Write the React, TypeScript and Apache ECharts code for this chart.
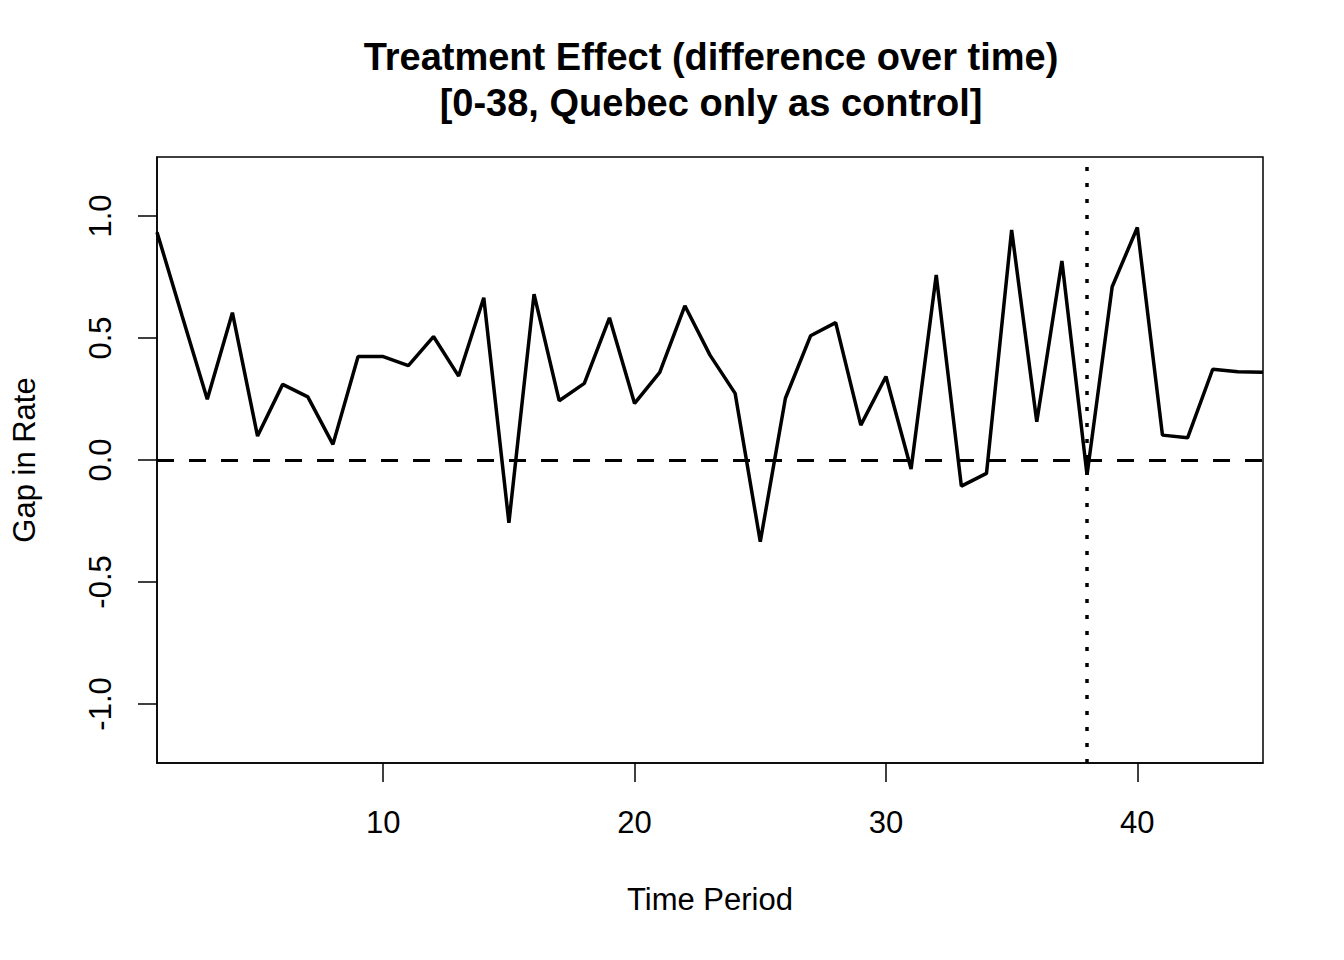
import { useEffect, useRef } from "react";
import * as echarts from "echarts";

const periods = [
  1, 2, 3, 4, 5, 6, 7, 8, 9, 10, 11, 12, 13, 14, 15, 16, 17, 18, 19, 20, 21, 22, 23,
  24, 25, 26, 27, 28, 29, 30, 31, 32, 33, 34, 35, 36, 37, 38, 39, 40, 41, 42, 43, 44, 45,
];
const gap = [
  0.934, 0.59, 0.249, 0.604, 0.098, 0.31, 0.259, 0.064, 0.424, 0.424, 0.387, 0.506,
  0.344, 0.665, -0.257, 0.68, 0.243, 0.314, 0.583, 0.232, 0.359, 0.632, 0.43, 0.273,
  -0.335, 0.253, 0.509, 0.563, 0.143, 0.342, -0.037, 0.758, -0.107, -0.055, 0.943,
  0.157, 0.816, -0.061, 0.71, 0.953, 0.102, 0.091, 0.372, 0.362, 0.36,
];
const xTicks = [10, 20, 30, 40];
const yTicks = [-1, -0.5, 0, 0.5, 1];
const treatmentStart = 38;

const FONT = "'Liberation Sans', Arial, sans-serif";

export default function App() {
  const ref = useRef<HTMLDivElement>(null);

  useEffect(() => {
    if (!ref.current) return;
    const chart = echarts.init(ref.current, undefined, { renderer: "svg" });

    chart.setOption({
      animation: false,
      backgroundColor: "#ffffff",
      textStyle: { fontFamily: FONT, color: "#000" },
      title: {
        text: "Treatment Effect (difference over time)\n[0-38, Quebec only as control]",
        left: 706,
        top: 29,
        textAlign: "center",
        textStyle: {
          fontFamily: FONT,
          fontSize: 38,
          fontWeight: "bold",
          lineHeight: 46,
          color: "#000",
        },
      },
      grid: {
        left: 157,
        top: 157,
        right: 81,
        bottom: 197,
        show: true,
        borderColor: "#000",
        borderWidth: 1.5,
        containLabel: false,
      },
      xAxis: {
        type: "value",
        min: 1,
        max: 45,
        name: "Time Period",
        nameLocation: "middle",
        nameGap: 121,
        nameTextStyle: { fontFamily: FONT, fontSize: 31, color: "#000" },
        axisLine: { show: true, onZero: false, lineStyle: { color: "#000", width: 1.5 } },
        axisTick: {
          show: true,
          length: 19,
          customValues: xTicks,
          lineStyle: { color: "#000", width: 1.5 },
        },
        axisLabel: {
          customValues: xTicks,
          margin: 44,
          fontFamily: FONT,
          fontSize: 31,
          color: "#000",
        },
        splitLine: { show: false },
      },
      yAxis: {
        type: "value",
        min: -1.242,
        max: 1.242,
        name: "Gap in Rate",
        nameLocation: "middle",
        nameRotate: 90,
        nameGap: 117,
        nameTextStyle: { fontFamily: FONT, fontSize: 31, color: "#000" },
        axisLine: { show: true, onZero: false, lineStyle: { color: "#000", width: 1.5 } },
        axisTick: {
          show: true,
          length: 19,
          customValues: yTicks,
          lineStyle: { color: "#000", width: 1.5 },
        },
        axisLabel: {
          customValues: yTicks,
          rotate: 90,
          margin: 41,
          fontFamily: FONT,
          fontSize: 31,
          color: "#000",
          formatter: (v: number) => v.toFixed(1),
        },
        splitLine: { show: false },
      },
      series: [
        {
          type: "line",
          data: periods.map((t, i) => [t, gap[i]]),
          showSymbol: false,
          symbol: "none",
          lineStyle: { color: "#000", width: 3.5 },
          markLine: {
            silent: true,
            symbol: "none",
            label: { show: false },
            data: [
              { yAxis: 0, lineStyle: { color: "#000", width: 3, type: [17, 15] } },
              { xAxis: treatmentStart, lineStyle: { color: "#000", width: 3.5, type: [4, 12] } },
            ],
          },
        },
      ],
    });

    return () => chart.dispose();
  }, []);

  return (
    <div
      ref={ref}
      style={{ position: "fixed", left: 0, top: 0, width: 1344, height: 960, background: "#fff" }}
    />
  );
}
